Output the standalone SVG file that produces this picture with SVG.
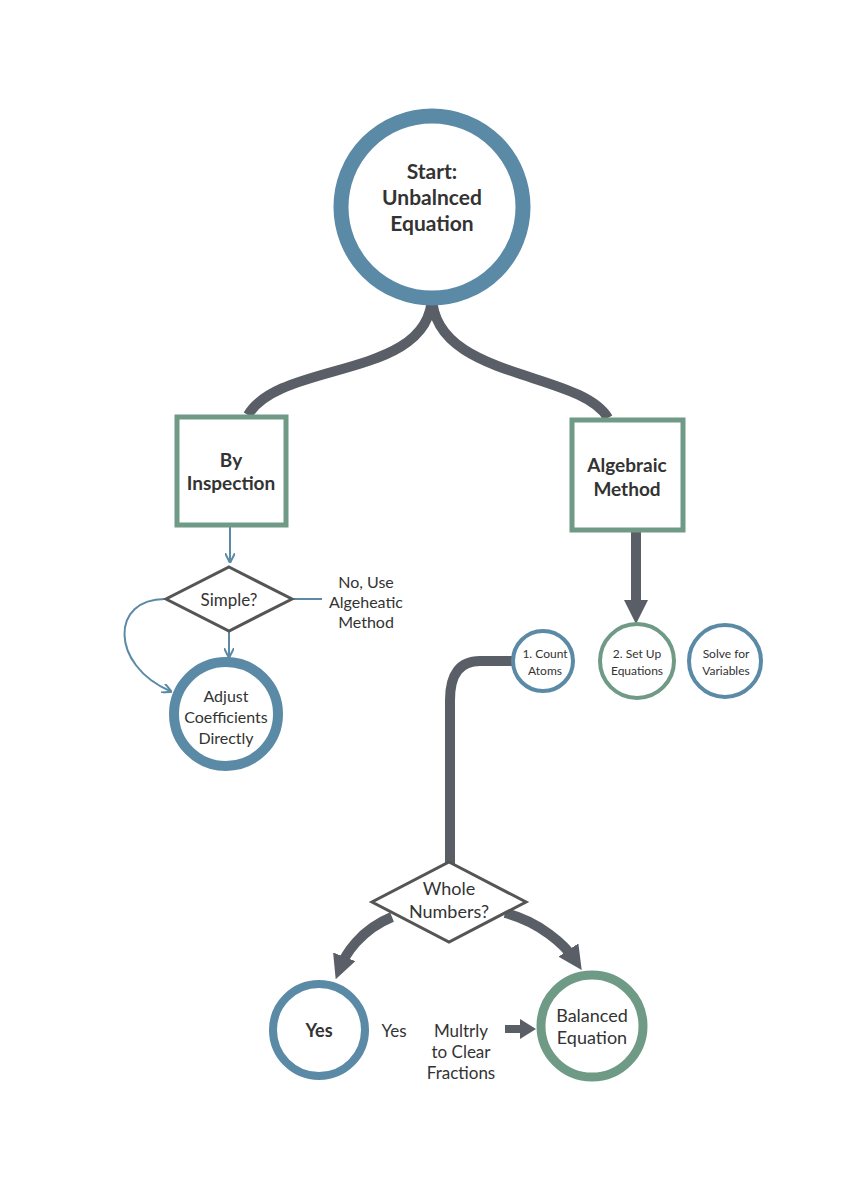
<svg xmlns="http://www.w3.org/2000/svg" width="864" height="1184" viewBox="0 0 864 1184">
<style>
text{font-family:Lato,"Open Sans",sans-serif;fill:#333;text-anchor:middle;dominant-baseline:central}
.b{fill:#fff;stroke:#5b8aa6}
.g{fill:#fff;stroke:#6f9a86}
.d{fill:#fff;stroke:#555;stroke-width:3}
.thick{fill:none;stroke:#5a5e66;stroke-width:10}
.thin{fill:none;stroke:#5b8aa6;stroke-width:2}
</style>
<defs>
<marker id="ab" markerWidth="10" markerHeight="10" refX="8" refY="5" orient="auto" markerUnits="userSpaceOnUse"><path d="M0,0 L10,5 L0,10" fill="none" stroke="#5b8aa6" stroke-width="2"/></marker>
<marker id="ag" markerWidth="24" markerHeight="24" refX="12" refY="12" orient="auto" markerUnits="userSpaceOnUse"><path d="M0,0 L24,12 L0,24 z" fill="#5a5e66"/></marker>
</defs>
<rect width="864" height="1184" fill="#fff"/>
<g id="connectors">
<path class="thick" d="M432,295 C432,380 280,360 248,415"/>
<path class="thick" d="M432,295 C432,380 580,370 608,418"/>
<path class="thin" d="M230,527 V561" marker-end="url(#ab)"/>
<path class="thin" d="M292,599 H322"/>
<path class="thin" d="M229,631 V656" marker-end="url(#ab)"/>
<path class="thin" d="M166,599 C110,598 110,665 170,691" marker-end="url(#ab)"/>
<path class="thick" d="M636,531 V612" marker-end="url(#ag)"/>
<path class="thick" d="M512,661 H480 Q450,661 450,700 V865"/>
<path class="thick" d="M392,917 C360,930 345,955 340,968" marker-end="url(#ag)"/>
<path class="thick" d="M505,913 C540,922 565,945 575,960" marker-end="url(#ag)"/>
<path d="M505,1029 H522" stroke="#5a5e66" stroke-width="8"/>
<path d="M520,1019 L536,1029 L520,1039 z" fill="#5a5e66"/>
</g>
<g id="start"><circle class="b" cx="432" cy="207" r="91" stroke-width="15"/>
<text x="432" y="170" font-size="21" font-weight="bold">Start:</text><text x="432" y="196" font-size="21" font-weight="bold">Unbalnced</text><text x="432" y="222" font-size="21" font-weight="bold">Equation</text></g>
<g id="inspection"><rect class="g" x="177" y="417" width="109" height="108" stroke-width="5"/>
<text x="231" y="459" font-size="19" font-weight="bold">By</text><text x="231" y="482" font-size="19" font-weight="bold">Inspection</text></g>
<g id="algebraic"><rect class="g" x="572" y="420" width="111" height="110" stroke-width="5"/>
<text x="627" y="464" font-size="19" font-weight="bold">Algebraic</text><text x="627" y="488" font-size="19" font-weight="bold">Method</text></g>
<g id="simple"><path class="d" d="M229,567 L292,599 L229,631 L166,599 z"/><text x="229" y="599" font-size="17">Simple?</text></g>
<g id="nouse"><text x="366" y="581" font-size="16">No, Use</text><text x="366" y="601" font-size="16">Algeheatic</text><text x="366" y="621" font-size="16">Method</text></g>
<g id="adjust"><circle class="b" cx="226" cy="714" r="52" stroke-width="10"/>
<text x="226" y="695" font-size="16">Adjust</text><text x="226" y="716" font-size="16">Coefficients</text><text x="226" y="737" font-size="16">Directly</text></g>
<g id="count"><circle class="b" cx="543" cy="661" r="30" stroke-width="4"/><text x="545" y="653" font-size="12">1. Count</text><text x="545" y="670" font-size="12">Atoms</text></g>
<g id="setup"><circle class="g" cx="637" cy="661" r="37" stroke-width="4"/><text x="637" y="653" font-size="12">2. Set Up</text><text x="637" y="670" font-size="12">Equations</text></g>
<g id="solve"><circle class="b" cx="725" cy="661" r="36" stroke-width="4"/><text x="726" y="653" font-size="12">Solve for</text><text x="726" y="670" font-size="12">Variables</text></g>
<g id="whole"><path class="d" d="M449,862 L526,902 L449,942 L372,902 z"/><text x="449" y="888" font-size="18">Whole</text><text x="449" y="911" font-size="18">Numbers?</text></g>
<g id="yes"><circle class="b" cx="319" cy="1030" r="46" stroke-width="8"/><text x="319" y="1030" font-size="18" font-weight="bold">Yes</text></g>
<g id="yeslabel"><text x="394" y="1030" font-size="17">Yes</text></g>
<g id="multiply"><text x="461" y="1030" font-size="17">Multrly</text><text x="461" y="1051" font-size="17">to Clear</text><text x="461" y="1072" font-size="17">Fractions</text></g>
<g id="balanced"><circle class="g" cx="592" cy="1026" r="51" stroke-width="9"/><text x="592" y="1015" font-size="18">Balanced</text><text x="592" y="1037" font-size="18">Equation</text></g>
</svg>
